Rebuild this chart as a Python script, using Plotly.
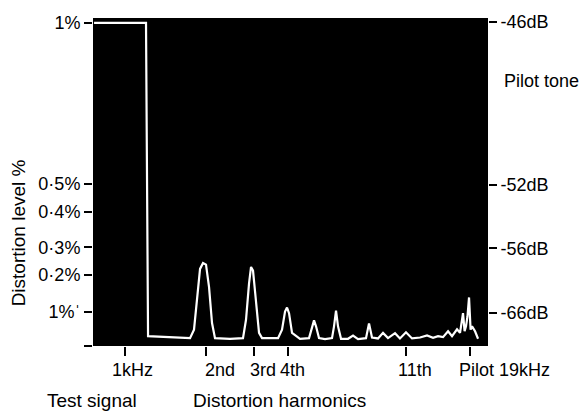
import math
import plotly.graph_objects as go

# Spectrum trace: frequency (kHz, log axis) and screen level (0-100 divisions)
freq_khz = [0.768, 1.196, 1.217, 1.468, 1.741, 1.801, 1.848, 1.896, 1.945, 1.995, 2.047, 2.100, 2.154,
            2.448, 2.735, 2.806, 2.879, 2.929, 2.979, 3.056, 3.136, 3.217,
            3.687, 3.815, 3.914, 3.981, 4.050, 4.155, 4.448,
            4.803, 4.927, 5.012, 5.098, 5.230, 5.506,
            5.843, 5.944, 6.046, 6.150, 6.310,
            6.699, 6.990, 7.295, 7.808, 8.011, 8.218,
            8.650, 9.027, 9.421, 10.0, 10.43, 10.98, 11.56,
            12.38, 13.14, 13.83, 14.43, 15.06, 15.72, 16.26, 16.97, 17.41, 17.86,
            18.10, 18.32, 18.55, 18.80, 19.05, 19.29, 19.79, 20.30]
level = [98.5, 98.5, 3.0, 2.7, 2.4, 5.0, 15.0, 23.5, 25.3, 24.8, 18.0, 7.0, 2.4,
         2.2, 2.4, 8.0, 19.0, 24.1, 23.0, 14.0, 4.0, 2.4,
         2.4, 5.0, 10.5, 11.7, 10.0, 4.0, 2.2,
         2.4, 6.0, 7.8, 6.0, 2.4, 2.1,
         2.4, 6.0, 10.8, 6.0, 2.2,
         2.2, 3.2, 2.1, 2.4, 6.9, 2.6,
         2.3, 4.0, 2.4, 3.9, 2.3, 4.2, 2.3,
         2.6, 3.2, 2.5, 3.0, 2.7, 4.5, 3.0, 5.1, 4.0, 10.0,
         4.5, 6.0, 9.0, 14.8, 5.0, 6.0, 4.5, 2.2]

# Axis labelling
x_ticks_khz = [1, 2, 3, 4, 11, 19]
x_tick_text = ["1kHz", "2nd", "3rd", "4th", "11th", "Pilot 19kHz"]
x_label_shift = [-15, -3, -6, -10, -10, -13]
left_tickvals = [98.5, 49.4, 41.0, 30.1, 21.7, 10.5, 0]
left_ticktext = ["1%", "0·5%", "0·4%", "0·3%", "0·2%", "1%ˈ", ""]
right_tickvals = [98.8, 49.1, 29.8, 10.2]
right_ticktext = ["-46dB", "-52dB", "-56dB", "-66dB"]

FONT = "Liberation Sans, Arial, sans-serif"

fig = go.Figure()
fig.add_trace(go.Scatter(x=freq_khz, y=level, mode="lines",
                         line=dict(color="white", width=2.2), showlegend=False, hoverinfo="skip"))
fig.add_trace(go.Scatter(x=freq_khz, y=level, mode="lines", yaxis="y2",
                         line=dict(color="rgba(0,0,0,0)", width=0), showlegend=False, hoverinfo="skip"))

W, H = 587, 416
L, R, T, B = 93, 99, 14, 70
pw = W - L - R
ph = H - T - B

def px_x(p):
    return (p - L) / pw

def px_y(p):
    return (H - B - p) / ph

annotations = []
for f, t, s in zip(x_ticks_khz, x_tick_text, x_label_shift):
    annotations.append(dict(x=math.log10(f), xref="x", y=px_y(370), yref="paper", text=t,
                            showarrow=False, xanchor="left", yanchor="middle", xshift=s,
                            font=dict(family=FONT, size=18, color="black")))
annotations += [
    dict(x=px_x(45), y=px_y(401), xref="paper", yref="paper", text="Test signal", showarrow=False,
         xanchor="left", yanchor="middle", font=dict(family=FONT, size=19, color="black")),
    dict(x=px_x(191), y=px_y(401), xref="paper", yref="paper", text="Distortion harmonics", showarrow=False,
         xanchor="left", yanchor="middle", font=dict(family=FONT, size=19, color="black")),
    dict(x=px_x(502), y=px_y(78), xref="paper", yref="paper", text="Pilot tone", showarrow=False,
         xanchor="left", yanchor="middle", font=dict(family=FONT, size=18, color="black")),
    dict(x=px_x(18), y=px_y(232), xref="paper", yref="paper", text="Distortion level %", showarrow=False,
         textangle=-90, xanchor="center", yanchor="middle", font=dict(family=FONT, size=19, color="black")),
]

fig.update_layout(
    width=W, height=H,
    margin=dict(l=L, r=R, t=T, b=B),
    paper_bgcolor="white", plot_bgcolor="black",
    font=dict(family=FONT, size=18, color="black"),
    xaxis=dict(type="log", range=[math.log10(0.761), math.log10(22.1)],
               tickvals=x_ticks_khz, showticklabels=False, ticks="outside", ticklen=9,
               tickwidth=2, tickcolor="black", showgrid=False, zeroline=False, showline=False),
    yaxis=dict(range=[0, 100], tickvals=left_tickvals, ticktext=left_ticktext,
               ticks="outside", ticklen=8, tickwidth=1.5, tickcolor="black",
               showgrid=False, zeroline=False, showline=False,
               tickfont=dict(family=FONT, size=18, color="black")),
    yaxis2=dict(range=[0, 100], overlaying="y", side="right", tickvals=right_tickvals,
                ticktext=right_ticktext, ticks="outside", ticklen=8, tickwidth=1.5, tickcolor="black",
                showgrid=False, zeroline=False, showline=False,
                tickfont=dict(family=FONT, size=18, color="black")),
    annotations=annotations,
)

fig.write_html("out.html", config={"displayModeBar": False},
               post_script="document.body.style.margin='0';document.body.style.overflow='hidden';")
